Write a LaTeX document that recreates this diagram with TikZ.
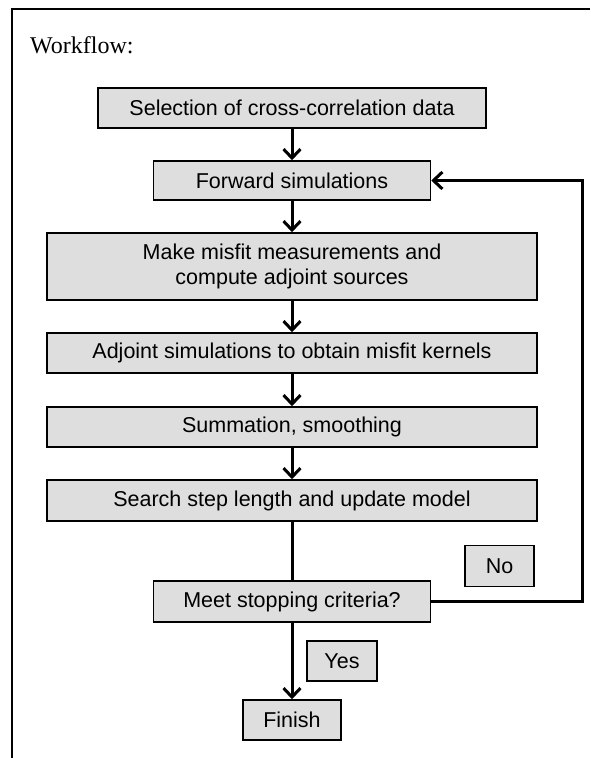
\documentclass[tikz,border=0pt]{standalone}
\usepackage{fontspec}
\setmainfont{Liberation Serif}
\newfontfamily\arialfont{Liberation Sans}
\usetikzlibrary{arrows.meta}
\definecolor{boxgray}{RGB}{222,222,222}

\begin{document}
\begin{tikzpicture}[
    x=1pt, y=-1pt,
    box/.style={draw, line width=1.5pt, fill=boxgray, inner sep=0pt, align=center, font=\arialfont\fontsize{21.5}{25}\selectfont},
    arr/.style={-{Straight Barb[length=9pt, width=17pt]}, line width=3pt},
    link/.style={line width=3pt}
]
\useasboundingbox (0,0) rectangle (590,758);
% Frame
\draw[line width=2.5pt] (12,758) -- (12,9) -- (590,9);
\node[anchor=base west, font=\fontsize{24}{28}\selectfont, inner sep=0pt] (title) at (30,53) {Workflow:};
% Steps
\node[box, minimum width=388pt, minimum height=40pt] (sel) at (292,108) {Selection of cross-correlation data};
\node[box, minimum width=277pt, minimum height=39pt] (fwd) at (292,180.5) {Forward simulations};
\node[box, minimum width=490pt, minimum height=67pt] (misfit) at (292,266.5) {Make misfit measurements and\\compute adjoint sources};
\node[box, minimum width=490pt, minimum height=40pt] (adj) at (292,353) {Adjoint simulations to obtain misfit kernels};
\node[box, minimum width=490pt, minimum height=40pt] (summ) at (292,427) {Summation, smoothing};
\node[box, minimum width=490pt, minimum height=41pt] (search) at (292,500.5) {Search step length and update model};
\node[box, minimum width=277pt, minimum height=41pt] (stop) at (292,601.5) {Meet stopping criteria?};
\node[box, minimum width=98pt, minimum height=40pt] (finish) at (292,720) {Finish};
% Decision labels
\node[box, minimum width=69pt, minimum height=41pt] (no) at (499.5,566) {No};
\node[box, minimum width=70pt, minimum height=40pt] (yes) at (342,661) {Yes};

\draw[arr] (sel) -- (fwd);
\draw[arr] (fwd) -- (misfit);
\draw[arr] (misfit) -- (adj);
\draw[arr] (adj) -- (summ);
\draw[arr] (summ) -- (search);
\draw[link] (search) -- (stop);
\draw[arr] (stop) -- (finish);

% Loop back
\coordinate (rt) at (582,0);
\draw[arr] (stop.east) -- (stop.east -| rt) |- (fwd.east);
\end{tikzpicture}
\end{document}
